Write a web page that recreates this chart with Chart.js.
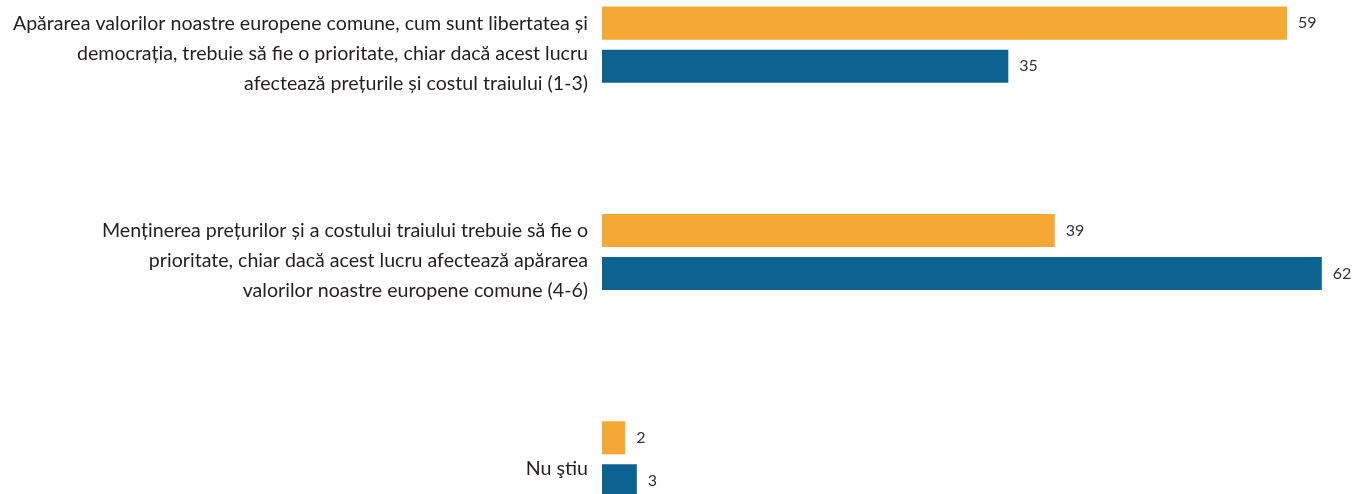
<!DOCTYPE html>
<html>
<head>
<meta charset="utf-8">
<script src="https://cdn.jsdelivr.net/npm/chart.js@4.4.0/dist/chart.umd.min.js"></script>
<style>
  html, body { margin: 0; padding: 0; background: #fff; overflow: hidden; }
  #wrap { position: absolute; left: 0; top: -88px; width: 1354px; height: 710px; }
</style>
</head>
<body>
<div id="wrap"><canvas id="chart"></canvas></div>
<script>
// categories (multi-line labels) and the two series
var categories = [
    ['Apărarea valorilor noastre europene comune, cum sunt libertatea și',
     'democrația, trebuie să fie o prioritate, chiar dacă acest lucru',
     'afectează prețurile și costul traiului (1-3)'],
    ['Menținerea prețurilor și a costului traiului trebuie să fie o',
     'prioritate, chiar dacă acest lucru afectează apărarea',
     'valorilor noastre europene comune (4-6)'],
    'Nu ştiu'
];
var seriesOrange = [59, 39, 2];
var seriesBlue = [35, 62, 3];

// draws the number just after the end of each bar
var valueLabels = {
    id: 'valueLabels',
    afterDatasetsDraw: function(chart) {
        var ctx = chart.ctx;
        ctx.save();
        ctx.font = '16px Lato, "Open Sans", sans-serif';
        ctx.fillStyle = '#333333';
        ctx.textBaseline = 'middle';
        ctx.textAlign = 'left';
        chart.data.datasets.forEach(function(ds, i) {
            chart.getDatasetMeta(i).data.forEach(function(bar, j) {
                ctx.fillText(ds.data[j], bar.x + 11, bar.y);
            });
        });
        ctx.restore();
    }
};

var ctx = document.getElementById('chart').getContext('2d');
var chart = new Chart(ctx, {
    type: 'bar',
    data: {
        labels: categories,
        datasets: [{
            data: seriesOrange,
            backgroundColor: 'rgb(245, 168, 52)',
            barPercentage: 0.767,
            categoryPercentage: 0.4155
        }, {
            data: seriesBlue,
            backgroundColor: 'rgb(12, 98, 145)',
            barPercentage: 0.767,
            categoryPercentage: 0.4155
        }]
    },
    options: {
        indexAxis: 'y',
        responsive: true,
        maintainAspectRatio: false,
        animation: false,
        layout: { padding: { left: 0, right: 9, top: 0, bottom: 0 } },
        plugins: {
            legend: { display: false },
            tooltip: { enabled: false }
        },
        scales: {
            x: {
                display: false,
                min: 0,
                max: 64
            },
            y: {
                grid: { display: false, drawTicks: false },
                border: { display: false },
                afterFit: function(scale) { scale.width = 602; },
                ticks: {
                    padding: 14,
                    labelOffset: 9,
                    color: '#231f20',
                    font: { family: 'Lato, "Open Sans", sans-serif', size: 19.6, lineHeight: 1.53 }
                }
            }
        }
    },
    plugins: [valueLabels]
});
</script>
</body>
</html>
